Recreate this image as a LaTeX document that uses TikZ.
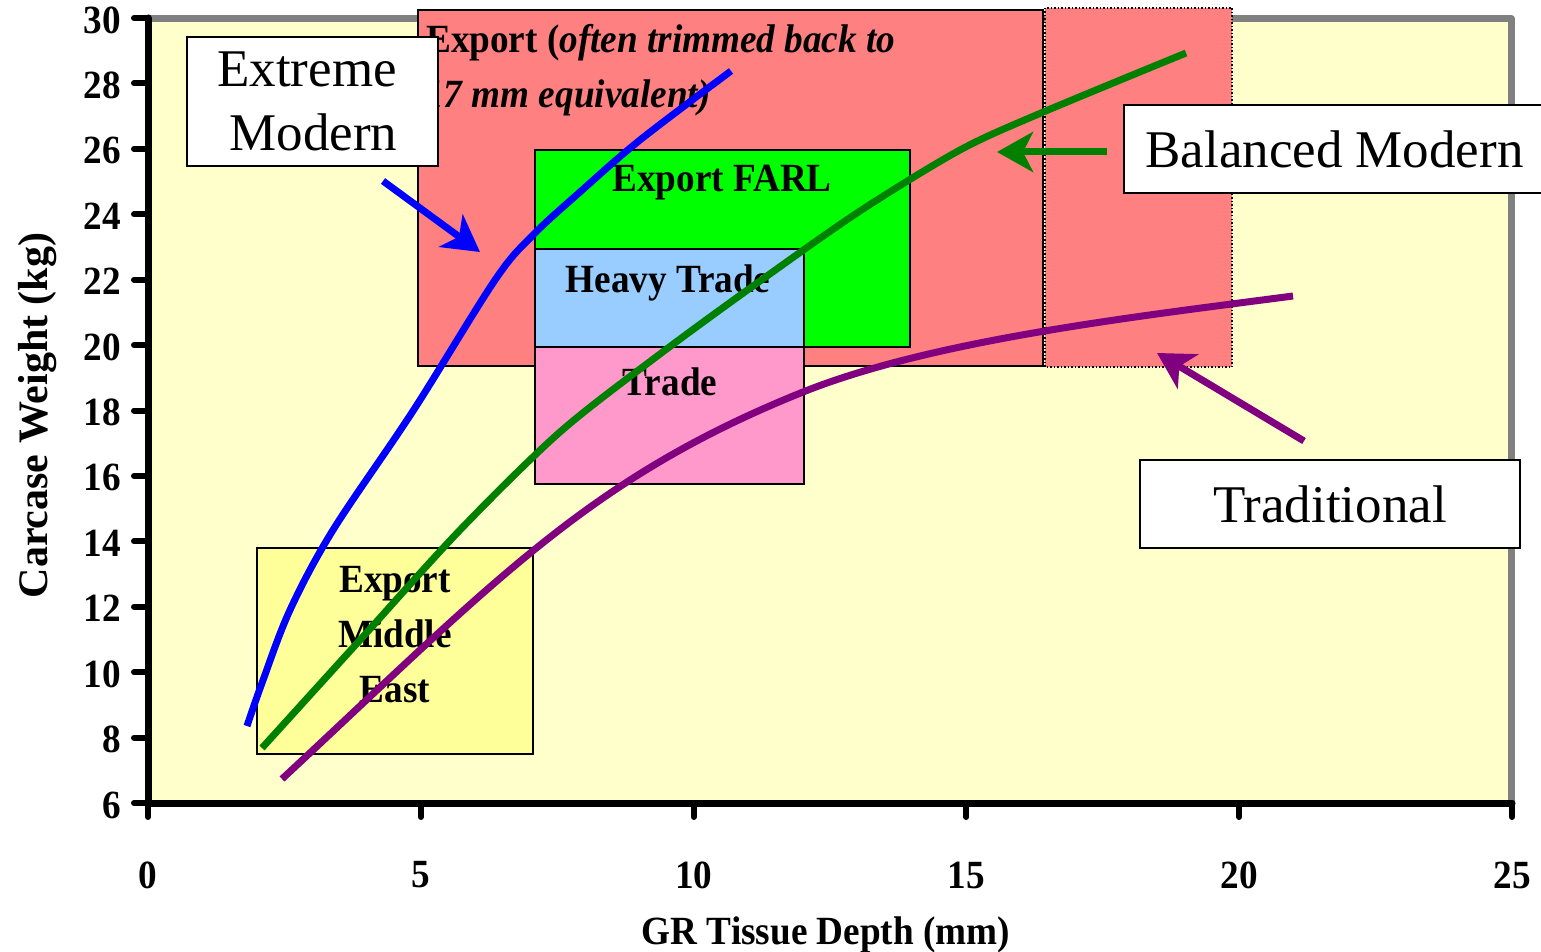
\documentclass[tikz,border=0pt]{standalone}
\usepackage{fontspec}
\setmainfont{Liberation Serif}
\newfontfamily\condserif[FakeStretch=0.93]{Liberation Serif}
\usetikzlibrary{arrows.meta}
\definecolor{plotbg}{HTML}{FFFFCC}
\definecolor{exportred}{HTML}{FF8080}
\definecolor{farlgreen}{HTML}{00FF00}
\definecolor{heavyblue}{HTML}{99CCFF}
\definecolor{tradepink}{HTML}{FF99CC}
\definecolor{meyellow}{HTML}{FFFF99}
\definecolor{bordergray}{HTML}{808080}
\definecolor{curveblue}{HTML}{0000FF}
\definecolor{curvegreen}{HTML}{008000}
\definecolor{curvepurple}{HTML}{800080}
\begin{document}
\begin{tikzpicture}[x=1pt,y=-1pt,
  boldlbl/.style={inner sep=0pt, font=\condserif\bfseries\fontsize{40pt}{55pt}\selectfont},
  reglbl/.style={font=\fontsize{53pt}{64pt}\selectfont},
  region/.style={draw=black, line width=1.5pt},
  curve/.style={line width=7pt, line join=round},
  callout/.style={line width=7pt, -{Stealth[length=36pt,width=40pt,inset=10pt]}},
  labelbox/.style={draw=black, fill=white, line width=2.5pt, reglbl, align=center, inner sep=0pt},
  axisline/.style={line width=7pt, line cap=round, line join=round},
  tickline/.style={line width=6pt, line cap=round}]
\useasboundingbox (0,0) rectangle (1541,952);
% plot area
\fill[plotbg] (148,19) rectangle (1511.5,803);
\draw[bordergray, line width=7pt, line join=round] (148,19) -- (1511.5,19) -- (1511.5,803);
% regions
\draw[region, fill=exportred] (418,10) rectangle (1043,366);
\draw[region, dotted, fill=exportred] (1045,8) rectangle (1232,367);
\draw[region, fill=farlgreen] (535,150) rectangle (910,347);
\draw[region, fill=heavyblue] (535,249) rectangle (804,347);
\draw[region, fill=tradepink] (535,347) rectangle (804,484);
\draw[region, fill=meyellow] (257,548) rectangle (533,754);
% region texts
\node[boldlbl, anchor=base west] (exportA) at (426,53) {Export (\textit{often trimmed back to}};
\node[boldlbl, anchor=base west] (exportB) at (425,108) {\textit{17 mm equivalent)}};
\node[boldlbl] (farl) at (722,183) {Export FARL};
\node[boldlbl] (heavy) at (668,283) {Heavy Trade};
\node[boldlbl] (trade) at (670,382) {Trade};
\node[boldlbl, align=center] (me) at (395,635) {Export\\Middle\\East};
% curves
\draw[curve, curveblue] plot[smooth, tension=0.55] coordinates {(247,726) (262,683) (290,610) (333,530) (413,411) (495,280) (533,235) (580,192) (640,140) (731,71)};
\draw[curve, curvegreen] plot[smooth, tension=0.5] coordinates {(262,748) (360,640) (460,530) (560,432) (660,354) (760,281) (860,211) (960,150) (1041,113) (1186,53)};
\draw[curve, curvepurple] (282,779) .. controls (496,580) and (589,478) .. (803,392) .. controls (933,340) and (1133,317) .. (1293,296);
% axes
\draw[axisline] (148,18) -- (148,803) -- (1512,803);
\foreach \v in {6,8,...,30} {
  \pgfmathsetmacro\yy{803-(\v-6)*32.7083}
  \draw[tickline] (134,\yy) -- (148,\yy);
  \node[boldlbl, anchor=east] (ylab\v) at (121,\yy+2) {\v};
}
\foreach \v in {0,5,...,25} {
  \pgfmathsetmacro\xx{148+\v*54.56}
  \draw[tickline] (\xx,803) -- (\xx,817);
  \node[boldlbl] (xlab\v) at (\xx,875) {\v};
}
\node[boldlbl, anchor=base] (xtitle) at (826,944) {GR Tissue Depth (mm)};
\node[inner sep=0pt, font=\bfseries\fontsize{42pt}{50pt}\selectfont, rotate=90, anchor=base] (ytitle) at (47,415.5) {Carcase Weight (kg)};
% label boxes
\node[labelbox, minimum width=251pt, minimum height=129pt] (extreme) at (312.5,101.5) {\hspace*{-11pt}Extreme\\\hspace*{2pt}Modern};
\node[labelbox, minimum width=421pt, minimum height=88pt] (balanced) at (1334.5,149) {Balanced Modern};
\node[labelbox, minimum width=380pt, minimum height=88pt] (traditional) at (1330,504) {Traditional};
% callout arrows
\coordinate (emFrom) at (383,181); \coordinate (emTo) at (480,252);
\coordinate (bmFrom) at (1107,152); \coordinate (bmTo) at (997,152);
\coordinate (trFrom) at (1304,441); \coordinate (trTo) at (1157,353);
\draw[callout, curveblue] (emFrom) -- (emTo);
\draw[callout, curvegreen] (bmFrom) -- (bmTo);
\draw[callout, curvepurple] (trFrom) -- (trTo);
\end{tikzpicture}
\end{document}
